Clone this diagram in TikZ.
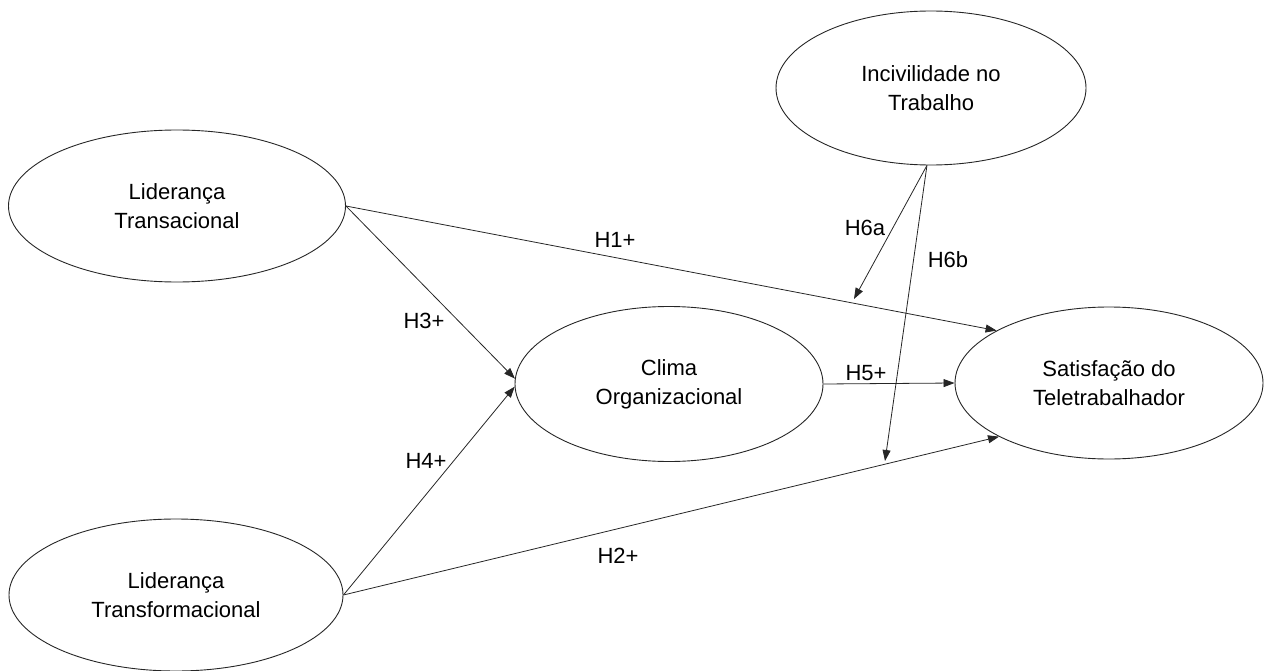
\documentclass[tikz,border=0pt]{standalone}
\usepackage{fontspec}
\setmainfont{Liberation Sans}
\usetikzlibrary{shapes.geometric,arrows.meta}
\begin{document}
\begin{tikzpicture}[x=1pt,y=-1pt,
  var/.style={ellipse,draw=black!85,line width=0.9pt,inner sep=0pt,align=center,
    font=\fontsize{22}{29}\selectfont},
  conn/.style={draw=black!85,line width=0.8pt,-{Triangle[length=11pt,width=8pt]}},
  lbl/.style={font=\fontsize{22}{26}\selectfont,inner sep=0pt}]
\useasboundingbox (0,0) rectangle (1265,671);
\node[var,minimum width=337pt,minimum height=152pt] (ltr) at (177,206) {Liderança\\Transacional};
\node[var,minimum width=334pt,minimum height=152pt] (ltf) at (176,595) {Liderança\\Transformacional};
\node[var,minimum width=308pt,minimum height=155pt] (clima) at (669,384) {Clima\\Organizacional};
\node[var,minimum width=308pt,minimum height=152pt] (sat) at (1109,383) {Satisfação do\\Teletrabalhador};
\node[var,minimum width=310pt,minimum height=154pt] (inc) at (931,88) {Incivilidade no\\Trabalho};
\coordinate (h6a) at (854,299);
\coordinate (h6b) at (885,461);
\draw[conn] (ltr.east) -- (clima.178.5);
\draw[conn] (ltf.east) -- (clima.181.5);
\draw[conn] (ltr.east) -- (sat.155);
\draw[conn] (ltf.east) -- (sat.206);
\draw[conn] (clima.east) -- (sat.west);
\draw[conn] (inc.-93) -- (h6a);
\draw[conn] (inc.-93) -- (h6b);
\node[lbl] (l1) at (615,240) {H1+};
\node[lbl] (l2) at (618,556) {H2+};
\node[lbl] (l3) at (424,321) {H3+};
\node[lbl] (l4) at (426,461) {H4+};
\node[lbl] (l5) at (866,373) {H5+};
\node[lbl] (l6a) at (865,228) {H6a};
\node[lbl] (l6b) at (948,260) {H6b};
\end{tikzpicture}
\end{document}
